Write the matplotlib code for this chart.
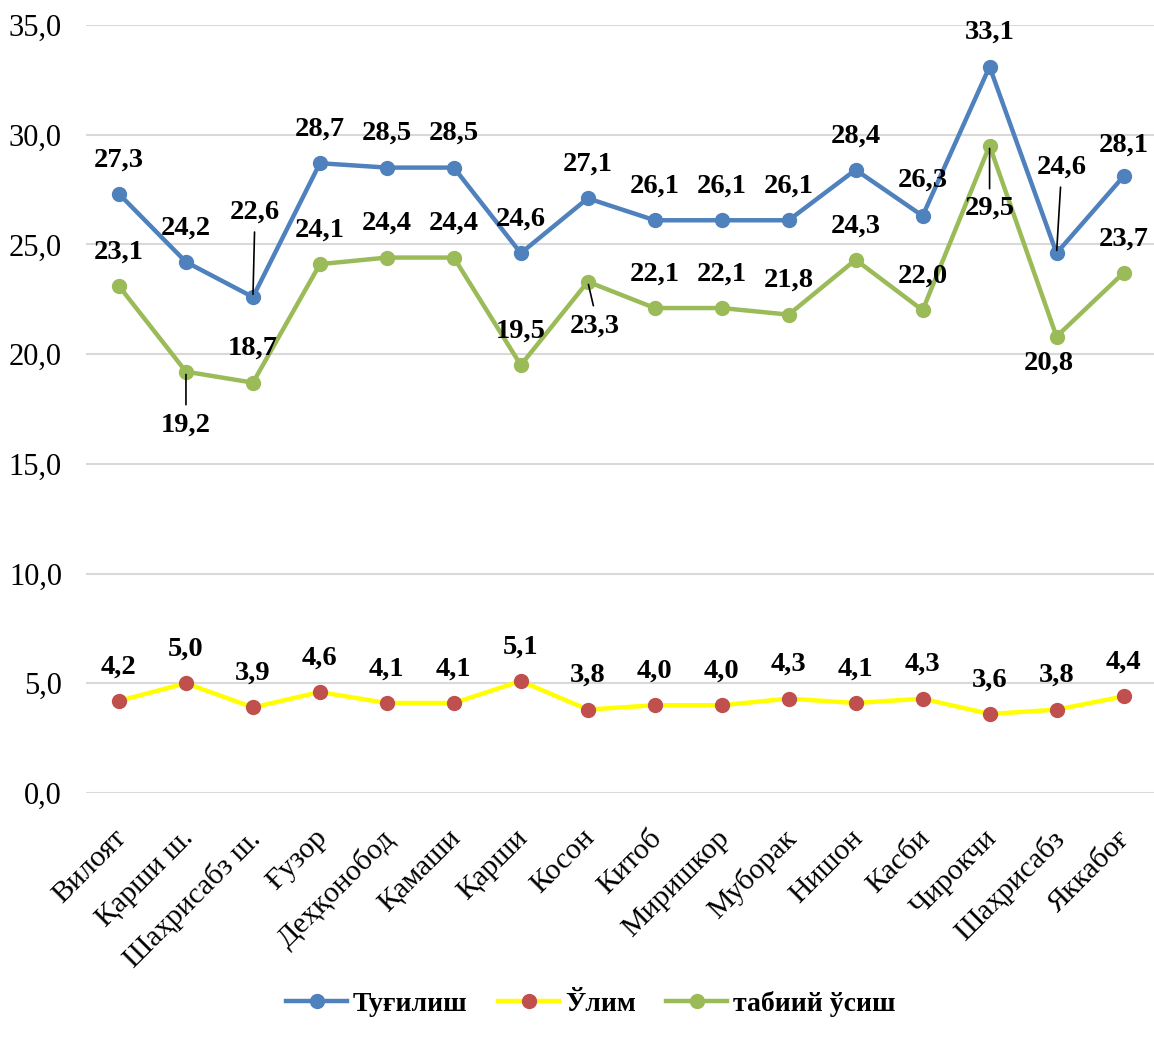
import matplotlib
matplotlib.use('Agg')
import matplotlib.pyplot as plt
from matplotlib.ticker import FuncFormatter
from matplotlib.transforms import ScaledTranslation

plt.rcParams['font.family'] = ['Liberation Serif', 'DejaVu Serif']

# Data
districts = ['Вилоят', 'Қарши ш.', 'Шаҳрисабз ш.', 'Ғузор', 'Деҳқонобод', 'Қамаши',
             'Қарши', 'Косон', 'Китоб', 'Миришкор', 'Муборак', 'Нишон', 'Касби',
             'Чирокчи', 'Шаҳрисабз', 'Яккабоғ']
births = [27.3, 24.2, 22.6, 28.7, 28.5, 28.5, 24.6, 27.1, 26.1, 26.1, 26.1, 28.4, 26.3, 33.1, 24.6, 28.1]
deaths = [4.2, 5.0, 3.9, 4.6, 4.1, 4.1, 5.1, 3.8, 4.0, 4.0, 4.3, 4.1, 4.3, 3.6, 3.8, 4.4]
growth = [23.1, 19.2, 18.7, 24.1, 24.4, 24.4, 19.5, 23.3, 22.1, 22.1, 21.8, 24.3, 22.0, 29.5, 20.8, 23.7]

series_names = ['Туғилиш', 'Ўлим', 'табиий ўсиш']

# label offsets in pixels (dx, dy, leader line)
births_off = {2: (2, 85, True), 12: (0, 36, False), 14: (5, 86, True), 15: (0, 31, False)}
growth_off = {1: (0, -53, True), 7: (7, -44, True), 13: (0, -63, True), 14: (-8, -27, False)}


def fmt(v):
    return f'{v:.1f}'.replace('.', ',')


fig = plt.figure(figsize=(11.54, 10.4), dpi=100)
ax = fig.add_axes([0.0741, 0.2375, 0.9285, 0.7385])

x = list(range(len(districts)))

ax.plot(x, births, color='#4F81BD', lw=3.2, marker='o', ms=10, label=series_names[0], zorder=3)
ax.plot(x, deaths, color='#FFFF00', lw=3.2, marker='o', ms=10, mfc='#C0504D', mec='#C0504D',
        label=series_names[1], zorder=3)
ax.plot(x, growth, color='#9BBB59', lw=3.2, marker='o', ms=10, label=series_names[2], zorder=3)


def add_labels(vals, offsets, default_dy=34):
    for i, v in enumerate(vals):
        dx, dy, leader = offsets.get(i, (0, default_dy, False))
        ax.annotate(fmt(v), (i, v), xytext=(dx, dy), textcoords='offset pixels',
                    ha='center', va='center', fontsize=20.5, fontweight='bold', zorder=5)
        if leader:
            sign = 1 if dy > 0 else -1
            ax.annotate('', (i, v), xytext=(dx * 0.8, dy - sign * 20), textcoords='offset pixels',
                        arrowprops=dict(arrowstyle='-', color='black', lw=1.2,
                                        shrinkA=0, shrinkB=2), zorder=5)


add_labels(births, births_off)
add_labels(deaths, {})
add_labels(growth, growth_off)

ax.set_xlim(-0.5, len(districts) - 0.5)
ax.set_ylim(0, 35)
ax.set_yticks([0, 5, 10, 15, 20, 25, 30, 35])
ax.yaxis.set_major_formatter(FuncFormatter(lambda v, p: fmt(v)))
ax.grid(axis='y', color='#D9D9D9', lw=1.5, zorder=0)
ax.set_axisbelow(True)
for s in ax.spines.values():
    s.set_visible(False)
ax.tick_params(axis='both', length=0, labelsize=22)
ax.tick_params(axis='y', pad=17)
ax.set_xticks(x)
ax.set_xticklabels(districts, rotation=45, ha='right', rotation_mode='anchor', fontsize=21.5)
ax.tick_params(axis='x', pad=23)
shift = ScaledTranslation(-0.06, 0, fig.dpi_scale_trans)
for lab in ax.get_xticklabels():
    lab.set_transform(lab.get_transform() + shift)

leg = fig.legend(loc='center', bbox_to_anchor=(0.512, 0.035), ncol=3, frameon=False,
                 prop={'weight': 'bold', 'size': 20}, handlelength=2.2, columnspacing=1.1,
                 handletextpad=0.2)

fig.savefig('out.png', dpi=100)
